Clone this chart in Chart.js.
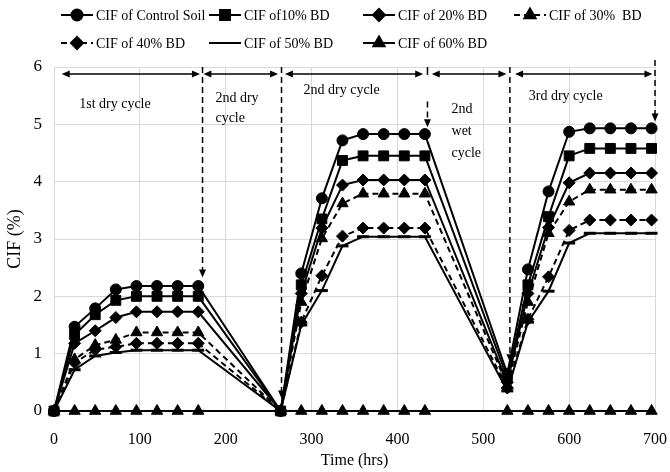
<!DOCTYPE html>
<html><head><meta charset="utf-8">
<script src="https://cdn.jsdelivr.net/npm/chart.js@4/dist/chart.umd.min.js"></script>
<style>html,body{margin:0;padding:0;background:#fff}</style>
</head><body>
<canvas id="c" width="670" height="472" style="width:670px;height:472px;display:block"></canvas>
<script>
// ---- data ----
const times = [0,24,48,72,96,120,144,168, 264,288,312,336,360,384,408,432, 528,552,576,600,624,648,672,696];
const seriesNames = ['CIF of Control Soil','CIF of10% BD','CIF of 20% BD','CIF of 30%  BD','CIF of 40% BD','CIF of 50% BD','CIF of 60% BD'];
const cifControl = [0,1.47,1.79,2.12,2.18,2.18,2.18,2.18, 0,2.40,3.71,4.72,4.83,4.83,4.83,4.83, 0.65,2.47,3.83,4.87,4.93,4.93,4.93,4.93];
const cif10 = [0,1.33,1.68,1.93,2.00,2.00,2.00,2.00, 0,2.20,3.35,4.37,4.45,4.45,4.45,4.45, 0.58,2.20,3.39,4.45,4.58,4.58,4.58,4.58];
const cif20 = [0,1.18,1.40,1.63,1.73,1.73,1.73,1.73, 0,2.05,3.19,3.94,4.03,4.03,4.03,4.03, 0.50,2.05,3.20,3.98,4.15,4.15,4.15,4.15];
const cif30 = [0,0.90,1.15,1.24,1.37,1.37,1.37,1.37, 0,1.90,3.01,3.62,3.79,3.79,3.79,3.79, 0.45,1.90,3.10,3.65,3.86,3.86,3.86,3.86];
const cif40 = [0,0.84,1.07,1.12,1.18,1.18,1.18,1.18, 0,1.55,2.36,3.05,3.19,3.19,3.19,3.19, 0.40,1.60,2.34,3.15,3.33,3.33,3.33,3.33];
const cif50 = [0,0.72,0.96,1.02,1.06,1.06,1.06,1.06, 0,1.50,2.10,2.88,3.04,3.04,3.04,3.04, 0.35,1.55,2.09,2.93,3.10,3.10,3.10,3.10];
const cif60 = [0,0,0,0,0,0,0,0, 0,0,0,0,0,0,0,0, 0,0,0,0,0,0,0,0];
const xTickStep = 100, xMax = 700, yMax = 6;

// annotations (data units)
const cycleArrows = [[9,170],[174,261],[269,430],[440,527],[537,697]];
const cycleArrowY = 5.88;
const dropLines = [
  {x:173, from:6.0, to:2.33, head:true},
  {x:265, from:6.0, to:0.22, head:true},
  {x:435, from:6.0, to:5.86, head:false, solid:true},
  {x:435, from:5.40, to:4.95, head:true},
  {x:531, from:6.0, to:0.85, head:true},
  {x:700, from:6.12, to:5.05, head:true}
];
const cycleTexts = [
  {t:'1st dry cycle', x:71, y:5.35, a:'center'},
  {t:'2nd dry', x:188, y:5.46, a:'left'},
  {t:'cycle', x:188, y:5.11, a:'left'},
  {t:'2nd dry cycle', x:335, y:5.60, a:'center'},
  {t:'2nd', x:463, y:5.26, a:'left'},
  {t:'wet', x:463, y:4.88, a:'left'},
  {t:'cycle', x:463, y:4.50, a:'left'},
  {t:'3rd dry cycle', x:596, y:5.49, a:'center'}
];

const allSeries = [cifControl, cif10, cif20, cif30, cif40, cif50, cif60];
const styles = [
  {ps:'circle', r:5.5, dash:[]},
  {ps:'rect', r:7, dash:[]},
  {ps:'rectRot', r:6, dash:[]},
  {ps:'triangle', r:6.5, dash:[6,4]},
  {ps:'rectRot', r:6, dash:[6,4]},
  {ps:'line', r:6, dash:[]},
  {ps:'triangle', r:6.5, dash:[]}
];
const FONT = "'Liberation Serif', 'Times New Roman', serif";

const datasets = allSeries.map((vals, i) => ({
  label: seriesNames[i],
  data: times.map((t, k) => ({x: t, y: vals[k]})),
  borderColor: '#000',
  backgroundColor: '#000',
  borderWidth: 2,
  borderDash: styles[i].dash,
  pointStyle: styles[i].ps,
  pointRadius: styles[i].r,
  pointBorderWidth: styles[i].ps === 'line' ? 3 : 1,
  pointBackgroundColor: '#000',
  pointBorderColor: '#000',
  tension: 0,
  fill: false,
  clip: false
}));

const legendPlugin = {
  id: 'customLegend',
  afterDraw(chart) {
    const ctx = chart.ctx;
    const cols = [61, 209, 363, 514];
    const rows = [15, 43];
    const places = [[0,0],[1,0],[2,0],[3,0],[0,1],[1,1],[2,1]];
    ctx.save();
    chart.data.datasets.forEach((ds, i) => {
      const [c, r] = places[i];
      const x0 = cols[c], y = rows[r];
      ctx.strokeStyle = '#000'; ctx.lineWidth = 2;
      ctx.setLineDash(ds.borderDash || []);
      ctx.beginPath(); ctx.moveTo(x0, y); ctx.lineTo(x0 + 32, y); ctx.stroke();
      ctx.setLineDash([]);
      ctx.fillStyle = '#000';
      Chart.helpers.drawPoint(ctx, {pointStyle: ds.pointStyle, radius: ds.pointRadius, borderWidth: ds.pointBorderWidth, rotation: 0}, x0 + 16, y);
      ctx.fillStyle = '#000';
      ctx.font = '14px ' + FONT;
      ctx.textAlign = 'left'; ctx.textBaseline = 'middle';
      ctx.fillText(ds.label, x0 + 35, y + 1);
    });
    ctx.restore();
  }
};

function arrowHead(ctx, x, y, dx, dy) {
  const L = 8, W = 3.5;
  const len = Math.hypot(dx, dy); const ux = dx/len, uy = dy/len;
  ctx.beginPath();
  ctx.moveTo(x, y);
  ctx.lineTo(x - ux*L - uy*W, y - uy*L + ux*W);
  ctx.lineTo(x - ux*L + uy*W, y - uy*L - ux*W);
  ctx.closePath(); ctx.fill();
}

const annotPlugin = {
  id: 'cycles',
  afterDatasetsDraw(chart) {
    const ctx = chart.ctx, xs = chart.scales.x, ys = chart.scales.y;
    ctx.save();
    ctx.strokeStyle = '#000'; ctx.fillStyle = '#000'; ctx.lineWidth = 1.5;
    const ay = ys.getPixelForValue(cycleArrowY);
    cycleArrows.forEach(([a, b]) => {
      const xa = xs.getPixelForValue(a), xb = xs.getPixelForValue(b);
      ctx.setLineDash([]);
      ctx.beginPath(); ctx.moveTo(xa + 4, ay); ctx.lineTo(xb - 4, ay); ctx.stroke();
      arrowHead(ctx, xa, ay, -1, 0);
      arrowHead(ctx, xb, ay, 1, 0);
    });
    dropLines.forEach(d => {
      const px = xs.getPixelForValue(d.x);
      const y1 = ys.getPixelForValue(d.from), y2 = ys.getPixelForValue(d.to);
      ctx.setLineDash(d.solid ? [] : [6, 4]);
      ctx.beginPath(); ctx.moveTo(px, y1); ctx.lineTo(px, d.head ? y2 - 6 : y2); ctx.stroke();
      ctx.setLineDash([]);
      if (d.head) arrowHead(ctx, px, y2, 0, 1);
    });
    ctx.font = '14px ' + FONT;
    ctx.textBaseline = 'middle';
    cycleTexts.forEach(o => {
      ctx.textAlign = o.a;
      ctx.fillText(o.t, xs.getPixelForValue(o.x), ys.getPixelForValue(o.y));
    });
    ctx.restore();
  }
};

new Chart(document.getElementById('c'), {
  type: 'line',
  data: { datasets },
  options: {
    responsive: false,
    animation: false,
    devicePixelRatio: 1,
    layout: { padding: { top: 67, right: 15, bottom: 0, left: 0 } },
    plugins: { legend: { display: false }, tooltip: { enabled: false } },
    scales: {
      x: {
        type: 'linear', min: 0, max: xMax,
        ticks: { stepSize: xTickStep, color: '#000', font: { family: FONT, size: 16 }, padding: 19, maxRotation: 0 },
        grid: { color: '#d9d9d9', drawTicks: false },
        border: { color: '#d9d9d9' },
        title: { display: true, text: 'Time (hrs)', color: '#000', font: { family: FONT, size: 16 }, padding: { top: 0, bottom: 2 } },
        afterFit(s) { s.height = 61; s.paddingLeft = 0; s.paddingRight = 0; }
      },
      y: {
        min: 0, max: yMax,
        ticks: { stepSize: 1, color: '#000', font: { family: FONT, size: 17 }, padding: 12 },
        grid: { color: '#d9d9d9', drawTicks: false },
        border: { color: '#d9d9d9' },
        title: { display: true, text: 'CIF (%)', color: '#000', font: { family: FONT, size: 18 }, padding: { top: 4, bottom: 0 } },
        afterFit(s) { s.width = 54; s.paddingTop = 0; s.paddingBottom = 0; }
      }
    }
  },
  plugins: [legendPlugin, annotPlugin]
});
</script>
</body></html>
